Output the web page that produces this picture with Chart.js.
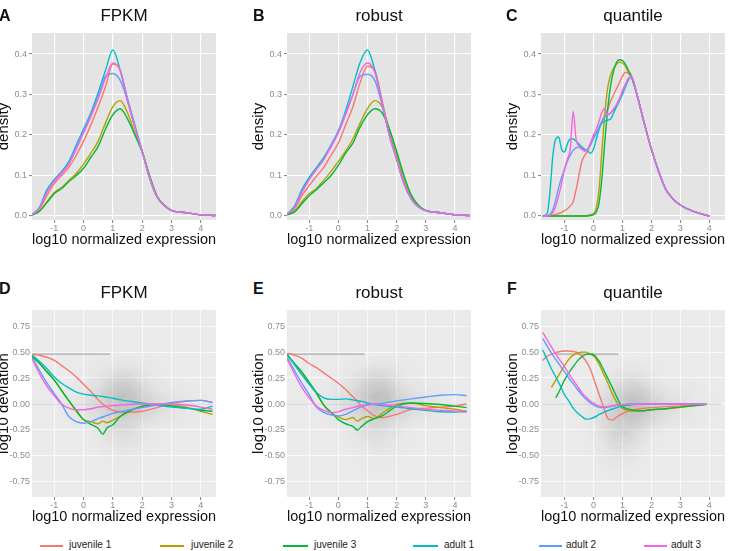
<!DOCTYPE html>
<html>
<head>
<meta charset="utf-8">
<title>Density and deviation of normalized expression</title>
<script src="https://cdn.jsdelivr.net/npm/chart.js@4.4.0/dist/chart.umd.min.js"></script>
<style>
  html, body { margin: 0; padding: 0; background: #fff; }
  #fig { position: relative; width: 735px; height: 551px; overflow: hidden;
         font-family: "Liberation Sans", Arial, Helvetica, sans-serif; color: #111; }
  #fig canvas { position: absolute; }
  .panel-title { position: absolute; width: 184px; text-align: center; font-size: 17px; line-height: 1; white-space: nowrap; }
  .panel-letter { position: absolute; font-size: 16px; font-weight: bold; line-height: 1; }
  .leg-line { position: absolute; height: 2px; top: 545px; }
  .leg-text { position: absolute; top: 539.5px; font-size: 10px; line-height: 1; color: #222; white-space: nowrap; }
</style>
</head>
<body>
<div id="fig">
  <canvas id="panelA" width="230" height="232" style="left:-8px;top:23px"></canvas>
  <canvas id="panelB" width="230" height="232" style="left:247px;top:23px"></canvas>
  <canvas id="panelC" width="230" height="232" style="left:501px;top:23px"></canvas>
  <canvas id="panelD" width="230" height="232" style="left:-8px;top:300px"></canvas>
  <canvas id="panelE" width="230" height="232" style="left:247px;top:300px"></canvas>
  <canvas id="panelF" width="230" height="232" style="left:501px;top:300px"></canvas>

  <div class="panel-letter" style="left:-1px;top:8px">A</div>
  <div class="panel-letter" style="left:253px;top:8px">B</div>
  <div class="panel-letter" style="left:506px;top:8px">C</div>
  <div class="panel-letter" style="left:-1px;top:281px">D</div>
  <div class="panel-letter" style="left:253px;top:281px">E</div>
  <div class="panel-letter" style="left:507px;top:281px">F</div>

  <div class="panel-title" style="left:32px;top:7px">FPKM</div>
  <div class="panel-title" style="left:287px;top:7px">robust</div>
  <div class="panel-title" style="left:541px;top:7px">quantile</div>
  <div class="panel-title" style="left:32px;top:284px">FPKM</div>
  <div class="panel-title" style="left:287px;top:284px">robust</div>
  <div class="panel-title" style="left:541px;top:284px">quantile</div>

  <div id="legend"></div>
</div>

<script>
// series (same order everywhere)
const seriesNames = ['juvenile 1', 'juvenile 2', 'juvenile 3', 'adult 1', 'adult 2', 'adult 3'];
const seriesColors = ['#F8766D', '#B79F00', '#00BA38', '#00BFC4', '#619CFF', '#F564E3'];

// tick labels
const xTicks = [-1, 0, 1, 2, 3, 4];
const densityTicks = [0, 0.1, 0.2, 0.3, 0.4];
const deviationTicks = [-0.75, -0.5, -0.25, 0, 0.25, 0.5, 0.75];

// ---- density panels (A, B) ----
const densX = [-1.75, -1.5, -1.25, -1, -0.75, -0.5, -0.25, 0, 0.25, 0.5, 0.75, 1, 1.25, 1.5, 1.75, 2, 2.25, 2.5, 2.75, 3, 3.5, 4, 4.5];

const fpkmDensity = [
  [0.003, 0.018, 0.05, 0.08, 0.1, 0.12, 0.15, 0.185, 0.225, 0.27, 0.32, 0.375, 0.36, 0.285, 0.22, 0.16, 0.095, 0.048, 0.026, 0.014, 0.008, 0.003, 0.001],
  [0.002, 0.013, 0.035, 0.058, 0.07, 0.088, 0.105, 0.128, 0.155, 0.185, 0.23, 0.27, 0.285, 0.255, 0.205, 0.16, 0.1, 0.05, 0.027, 0.014, 0.008, 0.003, 0.001],
  [0.002, 0.012, 0.033, 0.055, 0.068, 0.085, 0.1, 0.118, 0.145, 0.172, 0.215, 0.25, 0.265, 0.24, 0.2, 0.158, 0.1, 0.05, 0.027, 0.014, 0.008, 0.003, 0.001],
  [0.004, 0.022, 0.065, 0.09, 0.11, 0.135, 0.175, 0.215, 0.255, 0.305, 0.36, 0.41, 0.36, 0.29, 0.225, 0.16, 0.095, 0.048, 0.026, 0.014, 0.008, 0.003, 0.001],
  [0.003, 0.02, 0.06, 0.088, 0.108, 0.13, 0.17, 0.21, 0.25, 0.295, 0.345, 0.352, 0.335, 0.285, 0.22, 0.16, 0.095, 0.048, 0.026, 0.014, 0.008, 0.003, 0.001],
  [0.003, 0.02, 0.058, 0.086, 0.105, 0.128, 0.165, 0.205, 0.245, 0.29, 0.34, 0.378, 0.36, 0.285, 0.22, 0.16, 0.095, 0.048, 0.026, 0.014, 0.008, 0.003, 0.001]
];

const robustDensity = [
  [0.004, 0.018, 0.05, 0.075, 0.098, 0.12, 0.15, 0.18, 0.225, 0.27, 0.33, 0.37, 0.36, 0.285, 0.205, 0.145, 0.085, 0.045, 0.024, 0.013, 0.008, 0.003, 0.001],
  [0.003, 0.012, 0.035, 0.055, 0.068, 0.088, 0.11, 0.135, 0.16, 0.19, 0.23, 0.265, 0.285, 0.27, 0.215, 0.155, 0.095, 0.05, 0.026, 0.014, 0.008, 0.003, 0.001],
  [0.003, 0.01, 0.03, 0.05, 0.065, 0.082, 0.1, 0.125, 0.155, 0.18, 0.22, 0.25, 0.265, 0.255, 0.215, 0.16, 0.1, 0.052, 0.026, 0.014, 0.008, 0.003, 0.001],
  [0.005, 0.025, 0.065, 0.095, 0.12, 0.145, 0.175, 0.21, 0.26, 0.32, 0.38, 0.41, 0.36, 0.28, 0.2, 0.14, 0.08, 0.042, 0.022, 0.013, 0.008, 0.003, 0.001],
  [0.005, 0.022, 0.06, 0.09, 0.115, 0.14, 0.175, 0.21, 0.255, 0.3, 0.345, 0.35, 0.335, 0.275, 0.2, 0.14, 0.08, 0.042, 0.022, 0.013, 0.008, 0.003, 0.001],
  [0.005, 0.02, 0.058, 0.09, 0.115, 0.14, 0.17, 0.205, 0.25, 0.3, 0.355, 0.378, 0.355, 0.28, 0.2, 0.14, 0.08, 0.042, 0.022, 0.013, 0.008, 0.003, 0.001]
];

// ---- density panel C (quantile) ----
const quantX = [-1.75, -1.6, -1.5, -1.4, -1.3, -1.2, -1.1, -1.0, -0.9, -0.8, -0.7, -0.6, -0.5, -0.4, -0.3, -0.2, -0.1, 0, 0.1, 0.2,
                0.3, 0.4, 0.5, 0.6, 0.7, 0.8, 0.9, 1.0, 1.1, 1.2, 1.3, 1.5, 1.75, 2, 2.25, 2.5, 2.75, 3, 3.5, 4];

const quantileDensity = [
  [0, 0, 0.001, 0.002, 0.004, 0.006, 0.009, 0.013, 0.018, 0.025, 0.035, 0.065, 0.1, 0.135, 0.15, 0.16, 0.18, 0.195, 0.205, 0.22,
   0.235, 0.25, 0.265, 0.285, 0.3, 0.315, 0.33, 0.345, 0.355, 0.352, 0.345, 0.3, 0.23, 0.165, 0.11, 0.065, 0.042, 0.027, 0.01, 0],
  [0, 0, 0, 0, 0, 0, 0, 0, 0, 0, 0, 0, 0, 0, 0, 0.001, 0.003, 0.006, 0.02, 0.07,
   0.17, 0.26, 0.32, 0.35, 0.365, 0.375, 0.38, 0.378, 0.37, 0.357, 0.345, 0.3, 0.23, 0.165, 0.11, 0.065, 0.042, 0.027, 0.01, 0],
  [0, 0, 0, 0, 0, 0, 0, 0, 0, 0, 0, 0, 0, 0, 0, 0, 0.001, 0.003, 0.01, 0.035,
   0.1, 0.19, 0.27, 0.325, 0.36, 0.38, 0.386, 0.384, 0.375, 0.36, 0.347, 0.3, 0.23, 0.165, 0.11, 0.065, 0.042, 0.027, 0.01, 0],
  [0, 0.005, 0.06, 0.15, 0.19, 0.195, 0.165, 0.158, 0.178, 0.19, 0.19, 0.185, 0.178, 0.17, 0.165, 0.16, 0.155, 0.165, 0.19, 0.215,
   0.23, 0.235, 0.237, 0.24, 0.255, 0.27, 0.285, 0.3, 0.318, 0.335, 0.345, 0.3, 0.23, 0.165, 0.11, 0.065, 0.042, 0.027, 0.01, 0],
  [0, 0, 0.004, 0.015, 0.04, 0.07, 0.095, 0.115, 0.135, 0.15, 0.162, 0.168, 0.17, 0.168, 0.162, 0.165, 0.175, 0.19, 0.205, 0.22,
   0.235, 0.245, 0.25, 0.255, 0.262, 0.275, 0.29, 0.305, 0.32, 0.335, 0.345, 0.3, 0.23, 0.165, 0.11, 0.065, 0.042, 0.027, 0.01, 0],
  [0, 0, 0.002, 0.008, 0.025, 0.05, 0.08, 0.115, 0.14, 0.165, 0.258, 0.19, 0.172, 0.165, 0.16, 0.165, 0.18, 0.2, 0.215, 0.235,
   0.258, 0.265, 0.25, 0.255, 0.265, 0.275, 0.29, 0.31, 0.325, 0.34, 0.345, 0.3, 0.23, 0.165, 0.11, 0.065, 0.042, 0.027, 0.01, 0]
];

// ---- deviation panels (D, E) ----
const devX = [-1.75, -1.5, -1.25, -1, -0.75, -0.5, -0.25, 0, 0.25, 0.5, 0.65, 0.8, 1, 1.25, 1.5, 2, 2.5, 3, 3.5, 4, 4.4];

const fpkmDeviation = [
  [0.48, 0.47, 0.45, 0.42, 0.37, 0.32, 0.26, 0.19, 0.12, 0.04, 0.0, -0.03, -0.06, -0.075, -0.08, -0.07, -0.035, 0.005, 0.025, 0.035, 0.015],
  [0.46, 0.39, 0.31, 0.23, 0.13, 0.03, -0.07, -0.15, -0.17, -0.19, -0.165, -0.18, -0.155, -0.12, -0.08, -0.02, 0, -0.01, -0.03, -0.07, -0.1],
  [0.455, 0.39, 0.31, 0.23, 0.13, 0.03, -0.06, -0.15, -0.195, -0.235, -0.29, -0.23, -0.2, -0.12, -0.075, -0.02, -0.005, -0.02, -0.04, -0.06, -0.07],
  [0.47, 0.41, 0.34, 0.26, 0.2, 0.155, 0.115, 0.095, 0.085, 0.078, 0.072, 0.065, 0.055, 0.04, 0.03, 0.01, -0.01, -0.03, -0.04, -0.05, -0.02],
  [0.445, 0.32, 0.2, 0.1, 0, -0.12, -0.17, -0.185, -0.17, -0.14, -0.125, -0.11, -0.09, -0.075, -0.06, -0.035, -0.01, 0.015, 0.03, 0.035, 0.015],
  [0.43, 0.29, 0.17, 0.08, 0, -0.04, -0.055, -0.055, -0.045, -0.03, -0.025, -0.02, -0.015, -0.01, -0.005, 0, 0, 0, -0.01, -0.03, -0.05]
];

const robustDeviation = [
  [0.49, 0.47, 0.44, 0.39, 0.35, 0.3, 0.25, 0.2, 0.14, 0.07, 0.03, -0.02, -0.065, -0.115, -0.13, -0.1, -0.05, -0.04, -0.03, -0.02, 0],
  [0.47, 0.38, 0.29, 0.2, 0.1, -0.01, -0.085, -0.125, -0.15, -0.13, -0.165, -0.14, -0.12, -0.14, -0.09, -0.005, 0.01, -0.015, -0.035, -0.05, -0.07],
  [0.47, 0.39, 0.31, 0.21, 0.11, -0.01, -0.08, -0.15, -0.19, -0.215, -0.25, -0.215, -0.17, -0.14, -0.115, -0.02, 0.01, 0.005, -0.005, -0.02, -0.035],
  [0.48, 0.38, 0.28, 0.19, 0.11, 0.06, 0.045, 0.045, 0.05, 0.04, 0.032, 0.025, 0.01, -0.005, -0.015, -0.03, -0.045, -0.06, -0.075, -0.077, -0.07],
  [0.445, 0.32, 0.2, 0.09, -0.03, -0.08, -0.105, -0.115, -0.1, -0.065, -0.045, -0.025, -0.01, 0, 0.008, 0.03, 0.05, 0.068, 0.085, 0.09, 0.08],
  [0.43, 0.29, 0.16, 0.06, -0.02, -0.06, -0.082, -0.075, -0.05, -0.035, -0.022, -0.015, -0.005, 0, -0.005, -0.018, -0.035, -0.05, -0.06, -0.068, -0.08]
];

// ---- deviation panel F (quantile) ----
const quantDevX = [-1.75, -1.6, -1.45, -1.3, -1.15, -1.0, -0.85, -0.7, -0.55, -0.4, -0.25, -0.1, 0.05, 0.2, 0.35, 0.5, 0.65, 0.8, 0.95, 1.1,
                   1.3, 1.6, 2.0, 2.5, 3.0, 3.5, 3.9];

const quantileDeviation = [
  [0.42, 0.46, 0.48, 0.495, 0.505, 0.51, 0.51, 0.505, 0.495, 0.46, 0.41, 0.33, 0.21, 0.09, -0.03, -0.14, -0.155, -0.125, -0.1, -0.08,
   -0.065, -0.045, -0.035, -0.025, -0.018, -0.01, -0.003],
  [null, null, 0.16, 0.23, 0.3, 0.37, 0.43, 0.47, 0.49, 0.5, 0.5, 0.48, 0.45, 0.38, 0.29, 0.2, 0.1, 0.02, -0.03, -0.055,
   -0.068, -0.068, -0.055, -0.045, -0.032, -0.015, -0.003],
  [null, null, null, 0.06, 0.14, 0.23, 0.3, 0.36, 0.415, 0.455, 0.478, 0.482, 0.465, 0.41, 0.33, 0.245, 0.16, 0.07, -0.01, -0.04,
   -0.055, -0.065, -0.055, -0.045, -0.03, -0.015, -0.003],
  [0.52, 0.43, 0.34, 0.26, 0.18, 0.09, 0.03, -0.04, -0.085, -0.12, -0.145, -0.14, -0.125, -0.1, -0.08, -0.065, -0.048, -0.035, -0.022, -0.015,
   -0.008, -0.003, 0, 0, 0, 0, 0],
  [0.63, 0.56, 0.49, 0.43, 0.37, 0.31, 0.25, 0.195, 0.14, 0.09, 0.045, 0.01, -0.015, -0.03, -0.035, -0.03, -0.02, -0.012, -0.006, -0.003,
   0, 0, 0, 0, 0, 0, 0],
  [0.69, 0.62, 0.55, 0.48, 0.42, 0.36, 0.29, 0.23, 0.17, 0.11, 0.065, 0.025, 0, -0.02, -0.028, -0.025, -0.018, -0.012, -0.008, -0.005,
   -0.003, -0.002, 0, 0, 0, 0, 0]
];

// grey background of single genes (cloud centres + relative density), saturated band, zero band
const cloudLogX = [1.3, 1.6, 1.0, 1.3, 1.8, 0.8, 1.5, 1.1, 2.2, 2.6, 3.0, 0.4, 0.0, 1.2, 1.7, 1.3, 0.6, 1.9, 3.5];
const cloudLogY = [0.08, 0.05, 0.05, -0.1, -0.05, -0.15, 0.2, 0.22, 0, 0, 0, 0, 0, -0.28, -0.28, -0.42, 0.18, 0.25, 0];
const cloudLogW = [1, 1, 0.8, 0.8, 0.7, 0.6, 0.6, 0.5, 0.6, 0.4, 0.3, 0.5, 0.3, 0.4, 0.3, 0.2, 0.3, 0.3, 0.15];
const cloudQuantX = [1.3, 1.6, 1.0, 1.1, 1.7, 0.8, 1.4, 1.1, 2.1, 2.5, 3.0, 0.5, 0.2, 0.9, 1.5, 0.9, 0.6, 1.7, 3.5, 0.7];
const cloudQuantY = [0.02, -0.02, -0.05, -0.18, -0.1, -0.25, 0.12, 0.18, -0.03, -0.02, -0.01, -0.08, -0.05, -0.35, -0.3, -0.48, 0.12, 0.2, 0, -0.42];
const cloudQuantW = [1, 1, 0.8, 0.8, 0.7, 0.6, 0.6, 0.5, 0.6, 0.4, 0.3, 0.5, 0.3, 0.4, 0.3, 0.2, 0.3, 0.3, 0.15, 0.25];
const satY = 0.48;
const satLogX = [-1.76, 0.9];
const satQuantX = [-1.3, 0.85];
const zeroX = [-1.8, 4.4];

// legend placement [line start, line end, text start]
const legendSlots = [[40, 63, 69], [160, 184, 191], [283, 308, 314], [413, 438, 444], [539, 562, 566], [644, 667, 671]];

Chart.defaults.font.family = '"Liberation Sans", Arial, Helvetica, sans-serif';

function toPoints(xs, ys) {
  return xs.map(function (x, i) { return { x: x, y: ys[i] }; });
}

function isMajor(v, major) {
  return major.some(function (m) { return Math.abs(m - v) < 1e-6; });
}

// major ticks plus half-way positions (kept blank), inside [min, max]
function gridValues(major, min, max) {
  const step = major[1] - major[0];
  const out = [];
  for (let k = -2; k <= 2 * (major.length - 1) + 2; k++) {
    const v = Math.round((major[0] + k * step / 2) * 10000) / 10000;
    if (v >= min && v <= max) out.push(v);
  }
  return out;
}

const panelBg = {
  id: 'panelBg',
  beforeDraw: function (chart, args, opts) {
    const a = chart.chartArea;
    const ctx = chart.ctx;
    ctx.save();
    ctx.fillStyle = opts.color;
    ctx.fillRect(a.left, a.top, a.right - a.left, a.bottom - a.top);
    ctx.restore();
  }
};

// soften the cloud points
const cloudBlur = {
  id: 'cloudBlur',
  beforeDatasetDraw: function (chart, args) {
    if (chart.data.datasets[args.index].cloud) {
      chart.ctx.save();
      chart.ctx.filter = 'blur(9px)';
    }
  },
  afterDatasetDraw: function (chart, args) {
    if (chart.data.datasets[args.index].cloud) chart.ctx.restore();
  }
};

function gridOpts(major, lineCol, drawTicks) {
  return {
    color: function (c) { return c.tick && isMajor(c.tick.value, major) ? lineCol : 'rgba(0,0,0,0)'; },
    lineWidth: 1.1,
    tickColor: function (c) { return c.tick && isMajor(c.tick.value, major) ? '#8a8a8a' : 'rgba(0,0,0,0)'; },
    tickLength: 3,
    drawTicks: drawTicks
  };
}

function buildPanel(p) {
  const deviation = p.kind === 'deviation';
  const yMajor = deviation ? deviationTicks : densityTicks;
  const yMin = deviation ? -0.895 : -0.01;
  const yMax = deviation ? 0.905 : 0.452;
  const digits = deviation ? 2 : 1;
  const lineCol = deviation ? '#f8f8f8' : '#ffffff';

  const datasets = p.series.map(function (ys, i) {
    return {
      label: seriesNames[i],
      data: toPoints(p.x, ys),
      borderColor: seriesColors[i],
      borderWidth: 1.4,
      pointRadius: 0,
      fill: false,
      cubicInterpolationMode: 'monotone',
      order: seriesNames.length - i
    };
  });

  if (deviation) {
    datasets.push({
      label: 'saturated', data: toPoints(p.satX, [satY, satY]),
      borderColor: 'rgba(120,120,120,0.4)', borderWidth: 1.6, pointRadius: 0, order: 20
    });
    datasets.push({
      label: 'zero', data: toPoints(zeroX, [0, 0]),
      borderColor: 'rgba(160,160,160,0.25)', borderWidth: 1.5, pointRadius: 0, order: 21
    });
    datasets.push({
      label: 'genes', cloud: true, data: toPoints(p.cloud[0], p.cloud[1]),
      showLine: false, pointRadius: 15, pointBorderWidth: 0,
      pointBackgroundColor: p.cloud[2].map(function (w) { return 'rgba(70,70,70,' + (0.085 * w).toFixed(3) + ')'; }),
      order: 30
    });
  }

  new Chart(document.getElementById(p.id), {
    type: 'line',
    data: { datasets: datasets },
    options: {
      responsive: false,
      animation: false,
      events: [],
      layout: { autoPadding: false, padding: { top: 10, right: 6, bottom: 0, left: 0 } },
      plugins: {
        legend: { display: false },
        tooltip: { enabled: false },
        panelBg: { color: deviation ? '#EAEAEA' : '#E4E4E4' }
      },
      scales: {
        x: {
          type: 'linear', min: p.xMin, max: p.xMax,
          afterFit: function (s) { s.height = 35; },
          afterBuildTicks: function (s) {
            s.ticks = gridValues(xTicks, p.xMin, p.xMax).map(function (v) { return { value: v }; });
          },
          ticks: {
            autoSkip: false, maxRotation: 0, padding: 0, color: '#8c8c8c', font: { size: 9 },
            callback: function (v) { return isMajor(v, xTicks) ? String(v) : ''; }
          },
          grid: gridOpts(xTicks, lineCol, true),
          border: { display: false },
          title: {
            display: true, text: 'log10 normalized expression', color: '#111',
            font: { size: 15 }, padding: { top: 0, bottom: 6 }
          }
        },
        y: {
          type: 'linear', min: yMin, max: yMax,
          afterFit: function (s) { s.width = 40; },
          afterBuildTicks: function (s) {
            s.ticks = gridValues(yMajor, yMin, yMax).map(function (v) { return { value: v }; });
          },
          ticks: {
            autoSkip: false, padding: 2, color: '#8c8c8c', font: { size: 9 },
            callback: function (v) { return isMajor(v, yMajor) ? v.toFixed(digits) : ''; }
          },
          grid: gridOpts(yMajor, lineCol, !deviation),
          border: { display: false },
          title: {
            display: true, text: deviation ? 'log10 deviation' : 'density', color: '#111',
            font: { size: 15 }, padding: { top: 3, bottom: 0 }
          }
        }
      }
    },
    plugins: [panelBg, cloudBlur]
  });
}

const panels = [
  { id: 'panelA', kind: 'density', x: densX, series: fpkmDensity, xMin: -1.76, xMax: 4.52 },
  { id: 'panelB', kind: 'density', x: densX, series: robustDensity, xMin: -1.76, xMax: 4.55 },
  { id: 'panelC', kind: 'density', x: quantX, series: quantileDensity, xMin: -1.81, xMax: 4.54 },
  { id: 'panelD', kind: 'deviation', x: devX, series: fpkmDeviation, xMin: -1.76, xMax: 4.52,
    cloud: [cloudLogX, cloudLogY, cloudLogW], satX: satLogX },
  { id: 'panelE', kind: 'deviation', x: devX, series: robustDeviation, xMin: -1.76, xMax: 4.55,
    cloud: [cloudLogX, cloudLogY, cloudLogW], satX: satLogX },
  { id: 'panelF', kind: 'deviation', x: quantDevX, series: quantileDeviation, xMin: -1.81, xMax: 4.54,
    cloud: [cloudQuantX, cloudQuantY, cloudQuantW], satX: satQuantX }
];

panels.forEach(buildPanel);

// legend row at the bottom
const legend = document.getElementById('legend');
seriesNames.forEach(function (name, i) {
  const slot = legendSlots[i];
  const line = document.createElement('div');
  line.className = 'leg-line';
  line.style.left = slot[0] + 'px';
  line.style.width = (slot[1] - slot[0]) + 'px';
  line.style.background = seriesColors[i];
  legend.appendChild(line);

  const text = document.createElement('div');
  text.className = 'leg-text';
  text.style.left = slot[2] + 'px';
  text.textContent = name;
  legend.appendChild(text);
});
</script>
</body>
</html>
